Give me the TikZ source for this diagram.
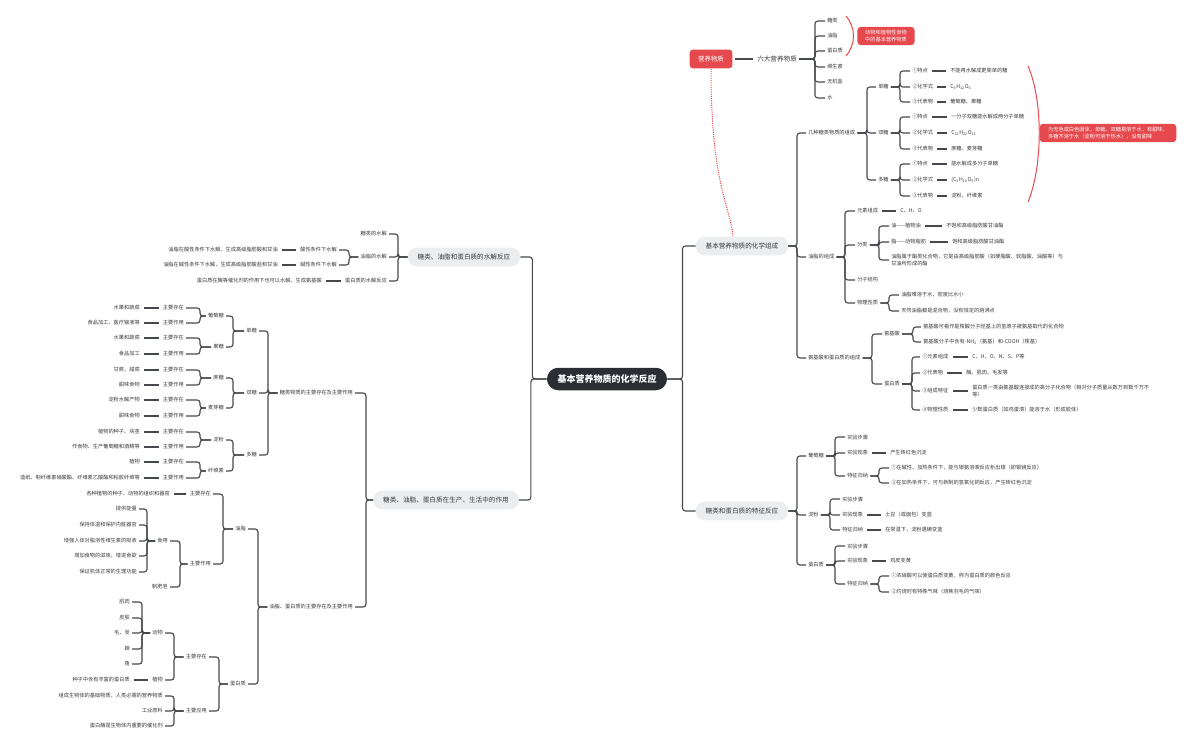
\documentclass[tikz,border=0pt]{standalone}
\usepackage{fontspec}
\setmainfont{Noto Sans CJK SC}
\usepackage{xcolor}
\usetikzlibrary{calc}

\definecolor{lnk}{HTML}{45484C}
\definecolor{hot}{HTML}{E5484D}
\definecolor{pale}{HTML}{EBEDEF}
\definecolor{ink}{HTML}{2A2E33}
\definecolor{txt}{HTML}{3A3A3A}

\begin{document}
\begin{tikzpicture}[x=0.025cm, y=-0.025cm,
  tx/.style={font=\fontsize{3.7}{4.6}\selectfont, text=txt, inner sep=1.4pt},
  rt/.style={tx, anchor=west, align=left},
  lt/.style={tx, anchor=east, align=right},
  big/.style={font=\fontsize{4.7}{5.6}\selectfont, text=txt, inner sep=1.4pt, anchor=west},
  main/.style={fill=pale, text=txt, rounded corners=6.5pt, minimum height=13.5pt,
               inner xsep=7pt, font=\fontsize{4.7}{5.6}\selectfont},
  root/.style={fill=ink, text=white, rounded corners=8pt, minimum height=16pt,
               inner xsep=7.5pt, font=\fontsize{6.4}{7.5}\selectfont\bfseries},
  hotbox/.style={fill=hot, text=white, rounded corners=2.5pt, inner xsep=5.5pt,
                 inner ysep=2.5pt, font=\fontsize{3.7}{4.6}\selectfont},
  lk/.style={draw=lnk, line width=0.8pt, rounded corners=2pt},
  vl/.style={lk, shorten <=1.5pt, shorten >=1.5pt},
  hotln/.style={draw=hot, line width=0.7pt}]
\useasboundingbox (0,0) rectangle (1192,748);

% --- root and the four main branches ---
\node[root] (root) at (607,379) {基本营养物质的化学反应};
\node[main] (zc) at (742,246) {基本营养物质的化学组成};
\node[main] (tz) at (742,511) {糖类和蛋白质的特征反应};
\node[main] (sj) at (464,257) {糖类、油脂和蛋白质的水解反应};
\node[main] (zy) at (446,500) {糖类、油脂、蛋白质在生产、生活中的作用};
\foreach \c in {zc,tz} \draw[lk] (root.east) -| ($(\c.west)+(-13,0)$) -- (\c.west);
\foreach \c in {sj,zy} \draw[lk] (root.west) -| ($(\c.east)+(12,0)$) -- (\c.east);

% --- nutrients ---
\node[hotbox, font=\fontsize{4.6}{5.5}\selectfont, minimum width=30.5pt, minimum height=13.5pt] (yy) at (711,59) {营养物质};
\node[big] (ld) at (755,59) {六大营养物质};
\draw[vl] (yy.east) -- (ld.west);
\node[rt] (n1) at (825,21) {糖类};
\node[rt] (n2) at (825,36) {油脂};
\node[rt] (n3) at (825,51) {蛋白质};
\node[rt] (n4) at (825,67) {维生素};
\node[rt] (n5) at (825,82) {无机盐};
\node[rt] (n6) at (825,98) {水};
\foreach \i in {1,...,6} \draw[lk] (ld.east) -| ($(n\i.west)+(-10,0)$) -- (n\i.west);
\coordinate (b1s) at (846,16);
\coordinate (b1e) at (846,56);
\draw[hotln] (b1s) .. controls (856,28) and (856,44) .. (b1e);
\node[hotbox, align=center] (jb) at (886,36) {动物和植物性食物\\中的基本营养物质};
\draw[hotln, dash pattern=on 0.8pt off 0.8pt] (yy.south) .. controls (711,185) and (730,205) .. ($(zc.north)+(-9,0)$);

% --- chemical composition ---
\node[rt] (jz) at (806,133) {几种糖类物质的组成};
\node[rt] (yzz) at (806,257) {油脂的组成};
\node[rt] (ad) at (806,358) {氨基酸和蛋白质的组成};
\foreach \c in {jz,yzz,ad} \draw[lk] (zc.east) -| ($(\c.west)+(-9,0)$) -- (\c.west);

% sugars
\node[rt] (dt) at (876,87) {单糖};
\node[rt] (st) at (876,133) {双糖};
\node[rt] (dd) at (876,180) {多糖};
\foreach \c in {dt,st,dd} \draw[lk] (jz.east) -| ($(\c.west)+(-9,0)$) -- (\c.west);
\node[rt] (dt1) at (910,71) {①特点};
\node[rt] (dt2) at (910,87) {②化学式};
\node[rt] (dt3) at (910,102) {③代表物};
\node[rt] (vdt1) at (948,71) {不能再水解成更简单的糖};
\node[rt] (vdt2) at (948,87) {C\textsubscript{6}H\textsubscript{12}O\textsubscript{6}};
\node[rt] (vdt3) at (948,102) {葡萄糖、果糖};
\node[rt] (st1) at (910,117) {①特点};
\node[rt] (st2) at (910,133) {②化学式};
\node[rt] (st3) at (910,149) {③代表物};
\node[rt] (vst1) at (949,117) {一分子双糖能水解成两分子单糖};
\node[rt] (vst2) at (949,133) {C\textsubscript{12}H\textsubscript{22}O\textsubscript{11}};
\node[rt] (vst3) at (949,149) {蔗糖、麦芽糖};
\node[rt] (dd1) at (910,164) {①特点};
\node[rt] (dd2) at (910,180) {②化学式};
\node[rt] (dd3) at (910,196) {③代表物};
\node[rt] (vdd1) at (949,164) {能水解成多分子单糖};
\node[rt] (vdd2) at (949,180) {(C\textsubscript{6}H\textsubscript{10}O\textsubscript{5})n};
\node[rt] (vdd3) at (949,196) {淀粉、纤维素};
\foreach \p in {dt,st,dd} {
  \foreach \i in {1,2,3} {
    \draw[lk] (\p.east) -| ($(\p\i.west)+(-10,0)$) -- (\p\i.west);
    \draw[vl] (\p\i.east) -- (v\p\i.west);
  }
}
\coordinate (b2s) at (1028,66);
\coordinate (b2e) at (1028,202);
\draw[hotln] (b2s) .. controls (1043,100) and (1043,166) .. (b2e);
\node[hotbox, align=left, inner xsep=6pt] (hb) at (1108,133) {为无色或白色固体，单糖、双糖易溶于水，有甜味，\\多糖不溶于水（淀粉可溶于热水），没有甜味};

% fats
\node[rt] (ys) at (855,211) {元素组成};
\node[rt] (fl) at (855,245) {分类};
\node[rt] (fz) at (855,280) {分子结构};
\node[rt] (wx) at (855,303) {物理性质};
\foreach \c in {ys,fl,fz,wx} \draw[lk] (yzz.east) -| ($(\c.west)+(-10,0)$) -- (\c.west);
\node[rt] (vys) at (898,211) {C、H、O};
\draw[vl] (ys.east) -- (vys.west);
\node[rt] (fl1) at (889,226) {油——植物油};
\node[rt] (fl2) at (889,242) {脂——动物脂肪};
\node[rt] (fl3) at (889,260) {油脂属于酯类化合物，它是由高级脂肪酸（如硬脂酸、软脂酸、油酸等）与\\甘油所形成的酯};
\foreach \c in {fl1,fl2,fl3} \draw[lk] (fl.east) -| ($(\c.west)+(-10,0)$) -- (\c.west);
\node[rt] (vfl1) at (944,226) {不饱和高级脂肪酸甘油酯};
\node[rt] (vfl2) at (950,242) {饱和高级脂肪酸甘油酯};
\draw[vl] (fl1.east) -- (vfl1.west);
\draw[vl] (fl2.east) -- (vfl2.west);
\node[rt] (wx1) at (899,295) {油脂难溶于水，密度比水小};
\node[rt] (wx2) at (899,311) {天然油脂都是混合物，没有恒定的熔沸点};
\foreach \c in {wx1,wx2} \draw[lk] (wx.east) -| ($(\c.west)+(-10,0)$) -- (\c.west);

% amino acids and proteins
\node[rt] (aj) at (882,334) {氨基酸};
\node[rt] (dbz) at (882,384) {蛋白质};
\foreach \c in {aj,dbz} \draw[lk] (ad.east) -| ($(\c.west)+(-10,0)$) -- (\c.west);
\node[rt] (aj1) at (921,327) {氨基酸可看作是羧酸分子烃基上的氢原子被氨基取代的化合物};
\node[rt] (aj2) at (921,342) {氨基酸分子中含有-NH\textsubscript{2}（氨基）和-COOH（羧基）};
\foreach \c in {aj1,aj2} \draw[lk] (aj.east) -| ($(\c.west)+(-8,0)$) -- (\c.west);
\node[rt] (d1) at (920,357) {①元素组成};
\node[rt] (d2) at (920,373) {②代表物};
\node[rt] (d3) at (920,391) {③组成特征};
\node[rt] (d4) at (920,410) {④物理性质};
\node[rt] (vd1) at (970,357) {C、H、O、N、S、P等};
\node[rt] (vd2) at (964,373) {酶、肌肉、毛发等};
\node[rt] (vd3) at (970,391) {蛋白质一类由氨基酸连接成的高分子化合物（相对分子质量从数万到数千万不\\等）};
\node[rt] (vd4) at (970,410) {少数蛋白质（如鸡蛋清）能溶于水（形成胶体）};
\foreach \i in {1,...,4} {
  \draw[lk] (dbz.east) -| ($(d\i.west)+(-8,0)$) -- (d\i.west);
  \draw[vl] (d\i.east) -- (vd\i.west);
}

% --- characteristic reactions ---
\node[rt] (pt) at (806,456) {葡萄糖};
\node[rt] (df) at (806,515) {淀粉};
\node[rt] (dbb) at (806,565) {蛋白质};
\foreach \c in {pt,df,dbb} \draw[lk] (tz.east) -| ($(\c.west)+(-9,0)$) -- (\c.west);
\node[rt] (pt1) at (845,437) {实验步骤};
\node[rt] (pt2) at (845,453) {实验现象};
\node[rt] (pt3) at (845,476) {特征归纳};
\foreach \c in {pt1,pt2,pt3} \draw[lk] (pt.east) -| ($(\c.west)+(-10,0)$) -- (\c.west);
\node[rt] (vpt2) at (888,453) {产生砖红色沉淀};
\draw[vl] (pt2.east) -- (vpt2.west);
\node[rt] (pt31) at (889,468) {①在碱性、加热条件下，能与银氨溶液反应析出银（即银镜反应）};
\node[rt] (pt32) at (889,483) {②在加热条件下，可与新制的氢氧化铜反应，产生砖红色沉淀};
\foreach \c in {pt31,pt32} \draw[lk] (pt3.east) -| ($(\c.west)+(-10,0)$) -- (\c.west);
\node[rt] (df1) at (840,499) {实验步骤};
\node[rt] (df2) at (840,515) {实验现象};
\node[rt] (df3) at (840,530) {特征归纳};
\foreach \c in {df1,df2,df3} \draw[lk] (df.east) -| ($(\c.west)+(-10,0)$) -- (\c.west);
\node[rt] (vdf2) at (883,515) {土豆（或面包）变蓝};
\node[rt] (vdf3) at (883,530) {在常温下，淀粉遇碘变蓝};
\draw[vl] (df2.east) -- (vdf2.west);
\draw[vl] (df3.east) -- (vdf3.west);
\node[rt] (db1) at (845,546) {实验步骤};
\node[rt] (db2) at (845,561) {实验现象};
\node[rt] (db3) at (845,584) {特征归纳};
\foreach \c in {db1,db2,db3} \draw[lk] (dbb.east) -| ($(\c.west)+(-10,0)$) -- (\c.west);
\node[rt] (vdb2) at (888,561) {鸡皮变黄};
\draw[vl] (db2.east) -- (vdb2.west);
\node[rt] (db31) at (889,576) {①浓硝酸可以使蛋白质变黄，称为蛋白质的颜色反应};
\node[rt] (db32) at (889,592) {②灼烧时有特殊气味（烧焦羽毛的气味）};
\foreach \c in {db31,db32} \draw[lk] (db3.east) -| ($(\c.west)+(-10,0)$) -- (\c.west);

% --- hydrolysis ---
\node[lt] (sh1) at (389,234) {糖类的水解};
\node[lt] (sh2) at (389,257) {油脂的水解};
\node[lt] (sh3) at (389,281) {蛋白质的水解反应};
\foreach \c in {sh1,sh2,sh3} \draw[lk] (sj.west) -| ($(\c.east)+(9,0)$) -- (\c.east);
\node[lt] (sx1) at (339,250) {酸性条件下水解};
\node[lt] (sx2) at (339,265) {碱性条件下水解};
\foreach \c in {sx1,sx2} \draw[lk] (sh2.west) -| ($(\c.east)+(10,0)$) -- (\c.east);
\node[lt] (vsx1) at (280,250) {油脂在酸性条件下水解，生成高级脂肪酸和甘油};
\node[lt] (vsx2) at (280,265) {油脂在碱性条件下水解，生成高级脂肪酸盐和甘油};
\draw[vl] (sx1.west) -- (vsx1.east);
\draw[vl] (sx2.west) -- (vsx2.east);
\node[lt] (vsh3) at (324,281) {蛋白质在酶等催化剂的作用下也可以水解，生成氨基酸};
\draw[vl] (sh3.west) -- (vsh3.east);

% --- uses in production and life ---
\node[lt] (tw) at (355,393) {糖类物质的主要存在及主要作用};
\node[lt] (yd) at (355,607) {油脂、蛋白质的主要存在及主要作用};
\foreach \c in {tw,yd} \draw[lk] (zy.west) -| ($(\c.east)+(11,0)$) -- (\c.east);

% sugars
\node[lt] (c1) at (259,331) {单糖};
\node[lt] (c2) at (259,393) {双糖};
\node[lt] (c3) at (259,455) {多糖};
\foreach \c in {c1,c2,c3} \draw[lk] (tw.west) -| ($(\c.east)+(9,0)$) -- (\c.east);
\node[lt] (ptt) at (226,316) {葡萄糖};
\node[lt] (gt) at (226,347) {果糖};
\node[lt] (zt) at (226,378) {蔗糖};
\node[lt] (mt) at (226,408) {麦芽糖};
\node[lt] (dff) at (226,440) {淀粉};
\node[lt] (xw) at (226,471) {纤维素};
\foreach \c in {ptt,gt} \draw[lk] (c1.west) -| ($(\c.east)+(7,0)$) -- (\c.east);
\foreach \c in {zt,mt} \draw[lk] (c2.west) -| ($(\c.east)+(7,0)$) -- (\c.east);
\foreach \c in {dff,xw} \draw[lk] (c3.west) -| ($(\c.east)+(7,0)$) -- (\c.east);
\node[lt] (ptta) at (186,308) {主要存在};
\node[lt] (pttb) at (186,323) {主要作用};
\node[lt] (vptta) at (142,308) {水果和蔬菜};
\node[lt] (vpttb) at (142,323) {食品加工、医疗输液等};
\node[lt] (gta) at (186,338) {主要存在};
\node[lt] (gtb) at (186,354) {主要作用};
\node[lt] (vgta) at (142,338) {水果和蔬菜};
\node[lt] (vgtb) at (142,354) {食品加工};
\node[lt] (zta) at (186,370) {主要存在};
\node[lt] (ztb) at (186,385) {主要作用};
\node[lt] (vzta) at (142,370) {甘蔗、甜菜};
\node[lt] (vztb) at (142,385) {甜味食物};
\node[lt] (mta) at (186,400) {主要存在};
\node[lt] (mtb) at (186,416) {主要作用};
\node[lt] (vmta) at (142,400) {淀粉水解产物};
\node[lt] (vmtb) at (142,416) {甜味食物};
\node[lt] (dffa) at (186,432) {主要存在};
\node[lt] (dffb) at (186,447) {主要作用};
\node[lt] (vdffa) at (142,432) {植物的种子、块茎};
\node[lt] (vdffb) at (142,447) {作食物、生产葡萄糖和酒精等};
\node[lt] (xwa) at (186,462) {主要存在};
\node[lt] (xwb) at (186,478) {主要作用};
\node[lt] (vxwa) at (142,462) {植物};
\node[lt] (vxwb) at (142,478) {造纸、制纤维素硝酸酯、纤维素乙酸酯和粘胶纤维等};
\foreach \p in {ptt,gt,zt,mt,dff,xw} {
  \foreach \s in {a,b} {
    \draw[lk] (\p.west) -| ($(\p\s.east)+(14,0)$) -- (\p\s.east);
    \draw[vl] (\p\s.west) -- (v\p\s.east);
  }
}

% fats
\node[lt] (yz2) at (248,529) {油脂};
\node[lt] (db2x) at (248,684) {蛋白质};
\foreach \c in {yz2,db2x} \draw[lk] (yd.west) -| ($(\c.east)+(10,0)$) -- (\c.east);
\node[lt] (e1) at (213,494) {主要存在};
\node[lt] (e2) at (213,564) {主要作用};
\foreach \c in {e1,e2} \draw[lk] (yz2.west) -| ($(\c.east)+(10,0)$) -- (\c.east);
\node[lt] (ve1) at (172,494) {各种植物的种子、动物的组织和器官};
\draw[vl] (e1.west) -- (ve1.east);
\node[lt] (sy) at (170,541) {食用};
\node[lt] (zfz) at (170,587) {制肥皂};
\foreach \c in {sy,zfz} \draw[lk] (e2.west) -| ($(\c.east)+(10,0)$) -- (\c.east);
\node[lt] (sy1) at (139,509) {提供能量};
\node[lt] (sy2) at (139,525) {保持体温和保护内脏器官};
\node[lt] (sy3) at (139,541) {增强人体对脂溶性维生素的吸收};
\node[lt] (sy4) at (139,556) {增加食物的滋味，增进食欲};
\node[lt] (sy5) at (139,572) {保证机体正常的生理功能};
\foreach \i in {1,...,5} \draw[lk] (sy.west) -| ($(sy\i.east)+(8,0)$) -- (sy\i.east);

% proteins
\node[lt] (g1) at (209,657) {主要存在};
\node[lt] (g2) at (209,711) {主要应用};
\foreach \c in {g1,g2} \draw[lk] (db2x.west) -| ($(\c.east)+(10,0)$) -- (\c.east);
\node[lt] (dw) at (165,633) {动物};
\node[lt] (zw) at (165,680) {植物};
\foreach \c in {dw,zw} \draw[lk] (g1.west) -| ($(\c.east)+(9,0)$) -- (\c.east);
\node[lt] (dw1) at (132,602) {肌肉};
\node[lt] (dw2) at (132,618) {皮肤};
\node[lt] (dw3) at (132,633) {毛、发};
\node[lt] (dw4) at (132,649) {蹄};
\node[lt] (dw5) at (132,664) {角};
\foreach \i in {1,...,5} \draw[lk] (dw.west) -| ($(dw\i.east)+(10,0)$) -- (dw\i.east);
\node[lt] (vzw) at (132,680) {种子中含有丰富的蛋白质};
\draw[vl] (zw.west) -- (vzw.east);
\node[lt] (g21) at (165,696) {组成生物体的基础物质，人类必需的营养物质};
\node[lt] (g22) at (165,711) {工业原料};
\node[lt] (g23) at (165,726) {蛋白酶是生物体内重要的催化剂};
\foreach \c in {g21,g22,g23} \draw[lk] (g2.west) -| ($(\c.east)+(9,0)$) -- (\c.east);
\end{tikzpicture}
\end{document}
